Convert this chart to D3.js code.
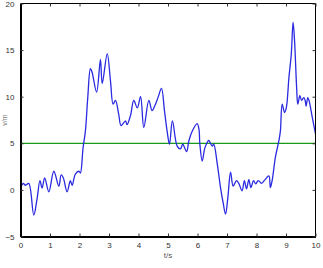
<!DOCTYPE html>
<html><head><meta charset="utf-8">
<script src="https://cdn.jsdelivr.net/npm/d3@7"></script>
<style>html,body{margin:0;padding:0;background:#fff;overflow:hidden}</style>
</head><body>
<svg id="c" width="323" height="268"></svg>
<script>
const tVals = [0,0.09,0.17,0.28,0.45,0.56,0.66,0.73,0.82,0.96,1.13,1.3,1.38,1.45,1.58,1.69,1.75,1.86,1.98,2.03,2.12,2.2,2.28,2.37,2.42,2.58,2.71,2.77,2.94,3.05,3.14,3.22,3.33,3.41,3.56,3.61,3.73,3.84,3.96,4.07,4.18,4.35,4.46,4.55,4.66,4.78,4.88,4.97,5.05,5.15,5.31,5.42,5.5,5.63,5.71,5.82,5.99,6.05,6.08,6.16,6.24,6.3,6.38,6.5,6.55,6.67,6.78,6.87,6.95,7.03,7.12,7.21,7.32,7.4,7.51,7.59,7.66,7.74,7.81,7.9,7.97,8.06,8.17,8.29,8.42,8.47,8.53,8.64,8.76,8.81,8.87,8.95,9.01,9.1,9.18,9.24,9.29,9.36,9.4,9.47,9.53,9.6,9.65,9.68,9.74,9.78,9.89,9.97,10];
const vVals = [0.1,0.7,0.5,0.7,-2.7,-1,1.0,0.2,1.3,-0.2,2.0,0.4,1.6,1.3,-0.2,1.0,0.5,1.7,2.0,1.8,4.5,6.3,9.9,13.0,12.7,10.5,14.0,11.4,14.6,11.7,9.2,9.6,8.1,6.9,7.4,7.0,8.0,9.6,8.8,10.0,6.7,9.6,8.5,9.0,9.9,10.9,8.5,6.3,4.9,7.4,4.7,4.4,4.9,4.1,5.3,6.3,7.1,6.5,4.9,3.1,4.4,4.9,5.3,4.7,4.9,2.8,0.25,-1.4,-2.6,-0.8,1.9,0.4,1.0,0.7,-0.1,1.0,0.1,1.1,0.25,1.0,0.65,1.0,0.7,1.1,1.5,0.25,1.0,3.5,5.3,6.3,9.2,8.3,8.8,12.1,14.6,18.0,16.0,11.0,9.2,10.1,9.6,9.9,9.6,9.0,9.9,9.6,7.8,6.5,6.0];
const thresholdValue = 5;
const xTicks = [0,1,2,3,4,5,6,7,8,9,10];
const yTicks = [-5,0,5,10,15,20];
const xLabel = "t/s";
const yLabel = "v/m";

const svg = d3.select("#c");
const L = 20.5, R = 315.5, T = 3.5, B = 236.5;
const x = d3.scaleLinear().domain([0,10]).range([L,R]);
const y = d3.scaleLinear().domain([-5,20]).range([B,T]);

const g = svg.append("g");
g.append("line").attr("x1",x(0)).attr("x2",x(10))
  .attr("y1",y(thresholdValue)).attr("y2",y(thresholdValue))
  .attr("stroke","#1a9a1a").attr("stroke-width",1.2);

const data = tVals.map((t,i)=>[t,vVals[i]]);
g.append("path").datum(data)
  .attr("d", d3.line().x(d=>x(d[0])).y(d=>y(d[1])).curve(d3.curveCatmullRom.alpha(0.5)))
  .attr("fill","none").attr("stroke","#2a2ae0").attr("stroke-width",1.3);

svg.append("line").attr("x1",L).attr("x2",R).attr("y1",T).attr("y2",T).attr("stroke","#000").attr("stroke-width",1);
svg.append("line").attr("x1",R).attr("x2",R).attr("y1",T).attr("y2",B).attr("stroke","#000").attr("stroke-width",1);

const font = "Liberation Sans, Arial, sans-serif";
const xb = d3.axisBottom(x).tickValues(xTicks).tickSizeInner(-3).tickSizeOuter(0).tickPadding(6);
const gx = svg.append("g").attr("transform",`translate(0,${B})`).call(xb);
gx.select(".domain").attr("stroke","#000").attr("stroke-width",2);
gx.selectAll("text").attr("font-family",font).attr("font-size",8).attr("fill","#333");
gx.selectAll(".tick line").attr("stroke","#333");
const xt = d3.axisTop(x).tickValues(xTicks).tickSizeInner(-3).tickSizeOuter(0).tickFormat("");
const gxt = svg.append("g").attr("transform",`translate(0,${T})`).call(xt);
gxt.select(".domain").remove();
gxt.selectAll(".tick line").attr("stroke","#333");
const yl = d3.axisLeft(y).tickValues(yTicks).tickSizeInner(-3).tickSizeOuter(0).tickPadding(6);
const gy = svg.append("g").attr("transform",`translate(${L},0)`).call(yl);
gy.select(".domain").attr("stroke","#000").attr("stroke-width",2);
gy.selectAll("text").attr("font-family",font).attr("font-size",8).attr("fill","#333");
gy.selectAll(".tick line").attr("stroke","#333");
const yr = d3.axisRight(y).tickValues(yTicks).tickSizeInner(-3).tickSizeOuter(0).tickFormat("");
const gyr = svg.append("g").attr("transform",`translate(${R},0)`).call(yr);
gyr.select(".domain").remove();
gyr.selectAll(".tick line").attr("stroke","#333");

svg.append("text").attr("x",(L+R)/2).attr("y",258).attr("text-anchor","middle")
  .attr("font-family",font).attr("font-size",8).attr("fill","#555").text(xLabel);
svg.append("text").attr("transform",`translate(7,${y(7.5)}) rotate(-90)`).attr("text-anchor","middle")
  .attr("font-family",font).attr("font-size",7).attr("fill","#777").text(yLabel);
</script>
</body></html>
